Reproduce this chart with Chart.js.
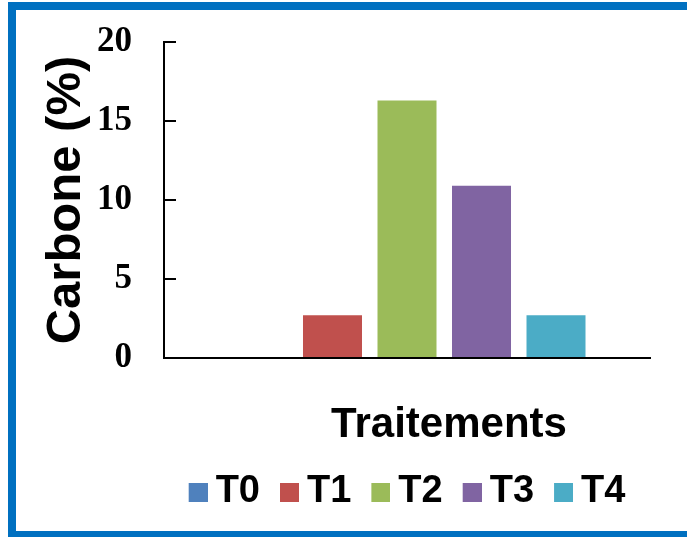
<!DOCTYPE html>
<html>
<head>
<meta charset="utf-8">
<script src="https://cdn.jsdelivr.net/npm/chart.js@4/dist/chart.umd.min.js"></script>
<style>
  html, body { margin: 0; padding: 0; background: #fff; overflow: hidden; }
  #wrap { position: relative; width: 687px; height: 537px; overflow: hidden; background: #fff; }
  #frame { position: absolute; left: 8px; top: 2px; width: 700px; height: 521px; border: 8px solid #0070C0; }
  #c { position: absolute; left: 0; top: 0; }
</style>
</head>
<body>
<div id="wrap">
  <div id="frame"></div>
  <canvas id="c" width="687" height="537"></canvas>
</div>
<script>
// Carbon content (%) per treatment
const categories = [''];
const seriesNames = ['T0', 'T1', 'T2', 'T3', 'T4'];
const carbonValues = [0, 2.7, 16.3, 10.9, 2.7];
const seriesColors = ['#4F81BD', '#C0504D', '#9BBB59', '#8064A2', '#4BACC6'];
const yTicks = [0, 5, 10, 15, 20];
const xTitle = 'Traitements';
const yTitle = 'Carbone (%)';

const SANS = '"Liberation Sans", Arial, sans-serif';
const SERIF = '"Liberation Serif", "Times New Roman", serif';

// Legend markers: a 19px square placed at the right end of a 30px wide canvas,
// so the square sits close to its label
function swatch(color) {
  const c = document.createElement('canvas');
  c.width = 30; c.height = 19;
  const g = c.getContext('2d');
  g.fillStyle = color;
  g.fillRect(11, 0, 19, 19);
  return c;
}
const swatches = seriesColors.map(swatch);

const datasets = seriesNames.map((name, i) => ({
  label: name,
  data: [carbonValues[i]],
  backgroundColor: seriesColors[i],
  borderWidth: 0,
  categoryPercentage: 0.7665,
  barPercentage: 0.792
}));

// Horizontal axis title, set off to the right of the plot centre
const xTitlePlugin = {
  id: 'xTitle',
  afterDraw(chart) {
    const { ctx, chartArea } = chart;
    ctx.save();
    ctx.font = 'bold 42px ' + SANS;
    ctx.fillStyle = '#000';
    ctx.textAlign = 'center';
    ctx.textBaseline = 'alphabetic';
    ctx.fillText(xTitle, (chartArea.left + chartArea.right) / 2 + 42, chartArea.bottom + 79);
    ctx.restore();
  }
};

new Chart(document.getElementById('c'), {
  type: 'bar',
  data: { labels: categories, datasets },
  plugins: [xTitlePlugin],
  options: {
    responsive: false,
    animation: false,
    devicePixelRatio: 1,
    events: [],
    layout: { padding: { top: 42, right: 37, left: 0, bottom: 16 } },
    plugins: {
      tooltip: { enabled: false },
      title: { display: false },
      legend: {
        position: 'bottom',
        fullSize: false,
        labels: {
          usePointStyle: true,
          pointStyleWidth: 8,
          boxHeight: 19,
          padding: 20,
          color: '#000',
          font: { family: SANS, weight: 'bold', size: 38 },
          generateLabels(chart) {
            const items = Chart.defaults.plugins.legend.labels.generateLabels(chart);
            items.forEach((it, i) => { it.pointStyle = swatches[i]; });
            return items;
          }
        }
      }
    },
    scales: {
      x: {
        afterFit(s) { s.height = 95; },
        grid: { display: false },
        border: { display: true, color: '#000', width: 2 },
        ticks: { display: false }
      },
      y: {
        min: 0,
        max: 20,
        afterFit(s) { s.width = 164; s.paddingTop = 0; s.paddingBottom = 0; },
        afterBuildTicks(s) { s.ticks = yTicks.map(v => ({ value: v })); },
        grid: { display: true, drawOnChartArea: false, drawTicks: true, tickLength: -12, color: '#000', lineWidth: 2 },
        border: { display: true, color: '#000', width: 2 },
        ticks: {
          color: '#000',
          padding: 44,
          font: { family: SERIF, weight: 'bold', size: 35 }
        },
        title: {
          display: true,
          text: yTitle,
          color: '#000',
          font: { family: SANS, weight: 'bold', size: 49, lineHeight: 1 },
          padding: { top: 41.5, bottom: 0 }
        }
      }
    }
  }
});
</script>
</body>
</html>
